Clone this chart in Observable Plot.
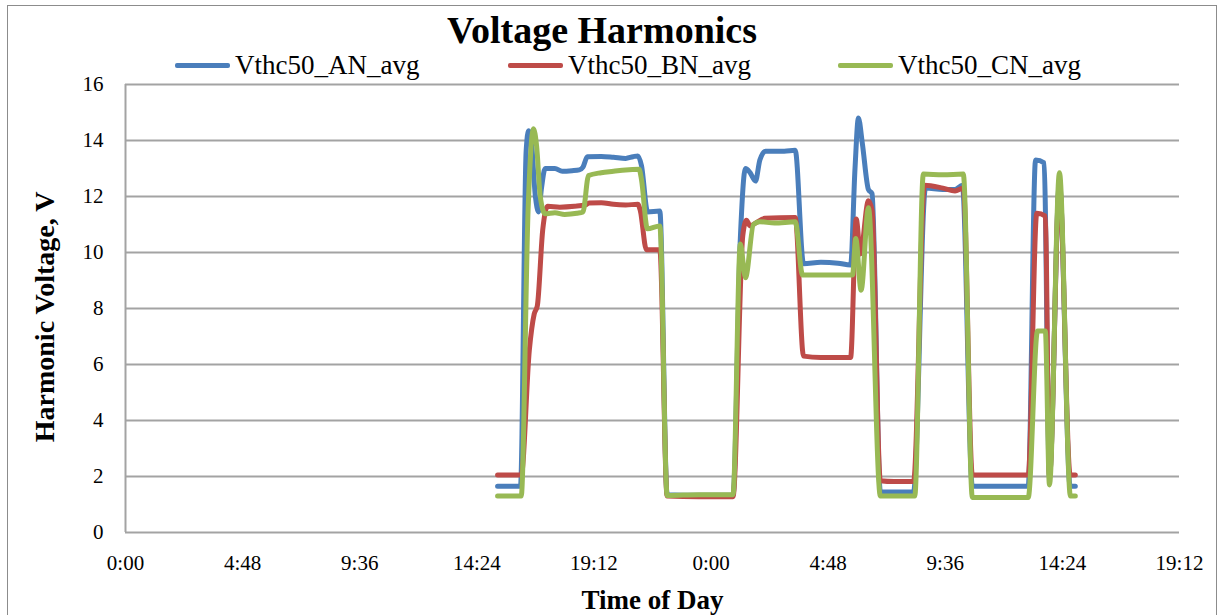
<!DOCTYPE html>
<html>
<head>
<meta charset="utf-8">
<script src="https://cdn.jsdelivr.net/npm/d3@7"></script>
<script src="https://cdn.jsdelivr.net/npm/@observablehq/plot@0.6"></script>
<style>
  html, body { margin: 0; padding: 0; background: #fff; }
  #wrap { position: relative; width: 1223px; height: 615px; overflow: hidden; font-family: "Liberation Serif", serif; }
  #border { position: absolute; left: 7px; top: 5px; width: 1210px; height: 640px; border: 1.5px solid #8c8c8c; box-sizing: border-box; }
  #title { position: absolute; top: 8px; left: 602px; transform: translateX(-50%); font-size: 38px; font-weight: bold; white-space: nowrap; color: #000; }
  .leg { position: absolute; top: 50px; display: flex; align-items: center; font-size: 27px; color: #000; white-space: nowrap; }
  .sw { width: 55px; height: 5px; margin-right: 5px; border-radius: 2px; }
  #chart { position: absolute; left: 0; top: 70px; }
</style>
</head>
<body>
<div id="wrap">
  <div id="border"></div>
  <div id="title"></div>
  <div id="legend"></div>
  <div id="chart"></div>
</div>
<script>
// Time in hours from the first midnight; value in volts
const seriesNames = ["Vthc50_AN_avg", "Vthc50_BN_avg", "Vthc50_CN_avg"];
const seriesColors = ["#4a7ebb", "#be4b48", "#98b954"];

const AN = [[15.25,1.65],[16.19,1.65],[16.42,13.6],[16.52,14.35],[16.62,14.1],[16.8,12.0],[16.93,11.45],[17.05,12.3],[17.2,13.0],[17.6,13.0],[17.9,12.9],[18.3,12.92],[18.6,12.95],[18.75,13.05],[18.93,13.42],[19.5,13.43],[20.0,13.4],[20.5,13.36],[20.8,13.42],[21.0,13.45],[21.15,13.1],[21.4,11.45],[21.9,11.48],[22.2,1.35],[23.5,1.33],[24.9,1.33],[25.2,10.5],[25.41,13.0],[25.6,12.85],[25.82,12.55],[26.0,13.3],[26.23,13.62],[27.0,13.62],[27.45,13.65],[27.79,9.6],[28.5,9.65],[29.2,9.62],[29.72,9.55],[29.9,13.0],[30.04,14.8],[30.2,13.9],[30.45,12.25],[30.6,12.1],[30.94,1.45],[31.5,1.45],[32.3,1.45],[32.79,12.3],[33.5,12.25],[34.0,12.25],[34.3,12.4],[34.71,1.65],[36.0,1.65],[37.0,1.65],[37.3,13.3],[37.65,13.2],[37.87,2.0],[38.28,12.5],[38.72,1.65],[38.93,1.65]];

const BN = [[15.25,2.05],[16.22,2.05],[16.55,6.5],[16.75,7.8],[16.88,8.1],[17.1,10.8],[17.3,11.65],[17.8,11.62],[18.4,11.65],[18.85,11.7],[19.0,11.77],[19.5,11.78],[20.0,11.72],[20.5,11.7],[21.0,11.72],[21.1,11.5],[21.35,10.1],[21.9,10.1],[22.2,1.3],[23.5,1.28],[24.9,1.28],[25.3,10.6],[25.45,11.15],[25.6,10.95],[25.82,11.05],[26.2,11.22],[27.45,11.25],[27.79,6.3],[28.5,6.25],[29.72,6.25],[29.95,11.2],[30.12,9.95],[30.45,11.85],[30.6,11.5],[30.94,1.85],[31.5,1.82],[32.3,1.82],[32.75,12.4],[33.5,12.3],[34.0,12.2],[34.34,12.3],[34.71,2.05],[36.0,2.05],[37.0,2.05],[37.35,11.4],[37.7,11.3],[37.87,2.0],[38.28,12.4],[38.72,2.05],[38.93,2.05]];

const CN = [[15.25,1.3],[16.22,1.3],[16.5,11.5],[16.72,14.42],[16.85,13.8],[17.0,12.0],[17.2,11.38],[17.6,11.42],[18.0,11.36],[18.5,11.4],[18.75,11.45],[18.98,12.75],[19.5,12.85],[20.0,12.9],[20.5,12.95],[21.05,12.97],[21.15,12.6],[21.39,10.85],[21.9,10.95],[22.2,1.32],[23.5,1.35],[24.9,1.35],[25.2,10.3],[25.41,9.1],[25.74,11.0],[26.0,11.1],[26.6,11.05],[27.45,11.1],[27.75,9.2],[28.5,9.2],[29.8,9.2],[29.93,10.5],[30.15,8.65],[30.45,11.6],[30.94,1.3],[31.5,1.3],[32.35,1.3],[32.7,12.8],[33.5,12.78],[34.34,12.8],[34.71,1.25],[36.0,1.25],[37.0,1.25],[37.38,7.2],[37.7,7.2],[37.87,1.7],[38.28,12.85],[38.73,1.3],[38.93,1.3]];

const yTicks = [0, 2, 4, 6, 8, 10, 12, 14, 16];
const xTicks = [0, 4.8, 9.6, 14.4, 19.2, 24, 28.8, 33.6, 38.4, 43.2];
const titleText = "Voltage Harmonics";
const xTitle = "Time of Day";
const yTitle = "Harmonic Voltage, V";

const fmt = h => {
  const m = Math.round(h * 60) % 1440;
  return Math.floor(m / 60) + ":" + String(m % 60).padStart(2, "0");
};

document.getElementById("title").textContent = titleText;
const legLefts = [175, 508, 838];
const legend = document.getElementById("legend");
seriesNames.forEach((n, i) => {
  const d = document.createElement("div");
  d.className = "leg";
  d.style.left = legLefts[i] + "px";
  d.innerHTML = `<div class="sw" style="background:${seriesColors[i]}"></div><span>${n}</span>`;
  legend.appendChild(d);
});

const data = [AN, BN, CN];
const grid = "#a3a3a3";

const chart = Plot.plot({
  width: 1223,
  height: 545,
  marginTop: 14,
  marginBottom: 83,
  marginLeft: 125,
  marginRight: 44,
  style: { fontFamily: "Liberation Serif, serif", fontSize: "20px", background: "transparent", overflow: "visible", color: "#000" },
  x: { domain: [0, 43.2], axis: null },
  y: { domain: [0, 16], axis: null },
  marks: [
    Plot.ruleY(yTicks.filter(d => d > 0), { stroke: grid, strokeWidth: 2 }),
    Plot.ruleY([0], { stroke: grid, strokeWidth: 2 }),
    Plot.ruleX([0], { stroke: grid, strokeWidth: 2 }),
    Plot.axisY({ ticks: yTicks, tickSize: 0, tickPadding: 22, tickFormat: d => d, fontSize: 21 }),
    Plot.axisX({ ticks: xTicks, tickSize: 0, tickPadding: 23, tickFormat: fmt, fontSize: 21, label: null }),
    ...data.map((s, i) => Plot.line(s, { x: d => d[0], y: d => d[1], stroke: seriesColors[i], strokeWidth: 5, curve: "monotone-x", strokeLinejoin: "round", strokeLinecap: "round" })),
    Plot.text([xTitle], { frameAnchor: "bottom", dy: 76, fontWeight: "bold", fontSize: 27 }),
    Plot.text([yTitle], { x: 0, y: 7.7, dx: -80, rotate: -90, textAnchor: "middle", fontWeight: "bold", fontSize: 28 })
  ]
});
document.getElementById("chart").appendChild(chart);
</script>
</body>
</html>
